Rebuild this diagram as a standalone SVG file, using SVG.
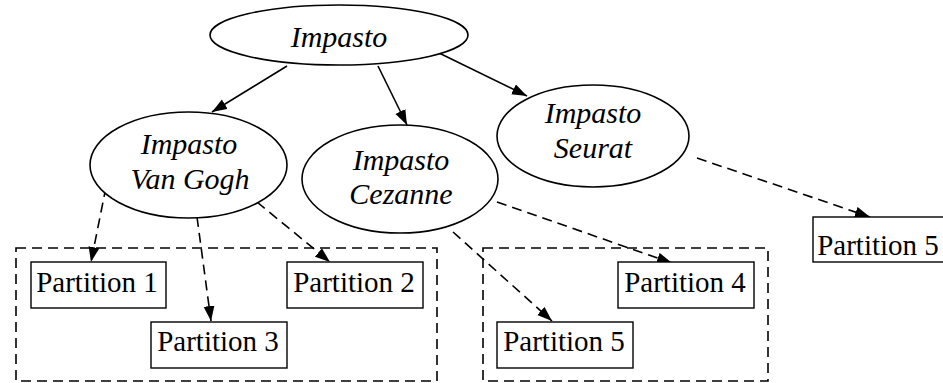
<svg xmlns="http://www.w3.org/2000/svg" width="943" height="383" viewBox="0 0 943 383">
  <style>
    .bg { fill: #ffffff; }
    .node ellipse { fill: #ffffff; stroke: #000000; stroke-width: 1.6; }
    .node rect { fill: #ffffff; stroke: #000000; stroke-width: 1.4; }
    .cluster { fill: none; stroke: #000000; stroke-width: 1.6; stroke-dasharray: 10 6; }
    .edge { fill: none; stroke: #000000; stroke-width: 1.6; }
    .dashed { stroke-dasharray: 10 6; }
    text { font-family: 'Liberation Serif', 'DejaVu Serif', serif; fill: #000000; text-anchor: middle; }
    .it { font-style: italic; font-size: 30px; }
    .pt { font-size: 29px; }
  </style>
  <defs>
    <marker id="arrow" markerUnits="userSpaceOnUse" markerWidth="16" markerHeight="12" refX="15" refY="5.5" orient="auto">
      <path d="M0,0 L15,5.5 L0,11 Z" fill="#000000"/>
    </marker>
  </defs>

  <rect class="bg" x="0" y="0" width="943" height="383"/>

  <!-- dashed group boxes -->
  <g id="clusters">
    <rect class="cluster" x="16" y="248" width="421" height="133"/>
    <rect class="cluster" x="483" y="248" width="285" height="133"/>
  </g>

  <!-- connectors -->
  <g id="edges">
    <line class="edge" x1="287" y1="66" x2="212" y2="112" marker-end="url(#arrow)"/>
    <line class="edge" x1="378" y1="66" x2="407" y2="125" marker-end="url(#arrow)"/>
    <line class="edge" x1="437" y1="52" x2="527" y2="96" marker-end="url(#arrow)"/>
    <line class="edge dashed" x1="106" y1="187" x2="91" y2="262" marker-end="url(#arrow)"/>
    <line class="edge dashed" x1="197" y1="217" x2="211" y2="321" marker-end="url(#arrow)"/>
    <line class="edge dashed" x1="257" y1="202" x2="330" y2="262" marker-end="url(#arrow)"/>
    <line class="edge dashed" x1="453" y1="232" x2="552" y2="321" marker-end="url(#arrow)"/>
    <line class="edge dashed" x1="497" y1="202" x2="672" y2="263" marker-end="url(#arrow)"/>
    <line class="edge dashed" x1="697" y1="158" x2="870" y2="217" marker-end="url(#arrow)"/>
  </g>

  <g id="impasto" class="node">
    <ellipse cx="339" cy="35" rx="129" ry="30"/>
    <text class="it" font-family="Liberation Serif, serif" x="339" y="47">Impasto</text>
  </g>

  <g id="impasto-van-gogh" class="node">
    <ellipse cx="188.5" cy="165" rx="98.5" ry="53"/>
    <text class="it" font-family="Liberation Serif, serif" x="189" y="154">Impasto</text>
    <text class="it" font-family="Liberation Serif, serif" x="190" y="189">Van Gogh</text>
  </g>

  <g id="impasto-cezanne" class="node">
    <ellipse cx="400" cy="179" rx="98" ry="54"/>
    <text class="it" font-family="Liberation Serif, serif" x="401" y="170">Impasto</text>
    <text class="it" font-family="Liberation Serif, serif" x="401" y="204">Cezanne</text>
  </g>

  <g id="impasto-seurat" class="node">
    <ellipse cx="593" cy="136" rx="96" ry="51"/>
    <text class="it" font-family="Liberation Serif, serif" x="593" y="123">Impasto</text>
    <text class="it" font-family="Liberation Serif, serif" x="593" y="158">Seurat</text>
  </g>

  <g id="partition-1" class="node">
    <rect x="31" y="262" width="135" height="46"/>
    <text class="pt" font-family="Liberation Serif, serif" x="97" y="292">Partition 1</text>
  </g>

  <g id="partition-2" class="node">
    <rect x="287" y="262" width="136" height="46"/>
    <text class="pt" font-family="Liberation Serif, serif" x="354" y="292">Partition 2</text>
  </g>

  <g id="partition-3" class="node">
    <rect x="151" y="322" width="136" height="46"/>
    <text class="pt" font-family="Liberation Serif, serif" x="218" y="351">Partition 3</text>
  </g>

  <g id="partition-4" class="node">
    <rect x="618" y="262" width="136" height="46"/>
    <text class="pt" font-family="Liberation Serif, serif" x="685" y="292">Partition 4</text>
  </g>

  <g id="partition-5a" class="node">
    <rect x="497" y="322" width="136" height="46"/>
    <text class="pt" font-family="Liberation Serif, serif" x="564" y="351">Partition 5</text>
  </g>

  <g id="partition-5b" class="node">
    <rect x="813" y="217" width="136" height="45"/>
    <text class="pt" font-family="Liberation Serif, serif" x="878" y="255">Partition 5</text>
  </g>
</svg>
